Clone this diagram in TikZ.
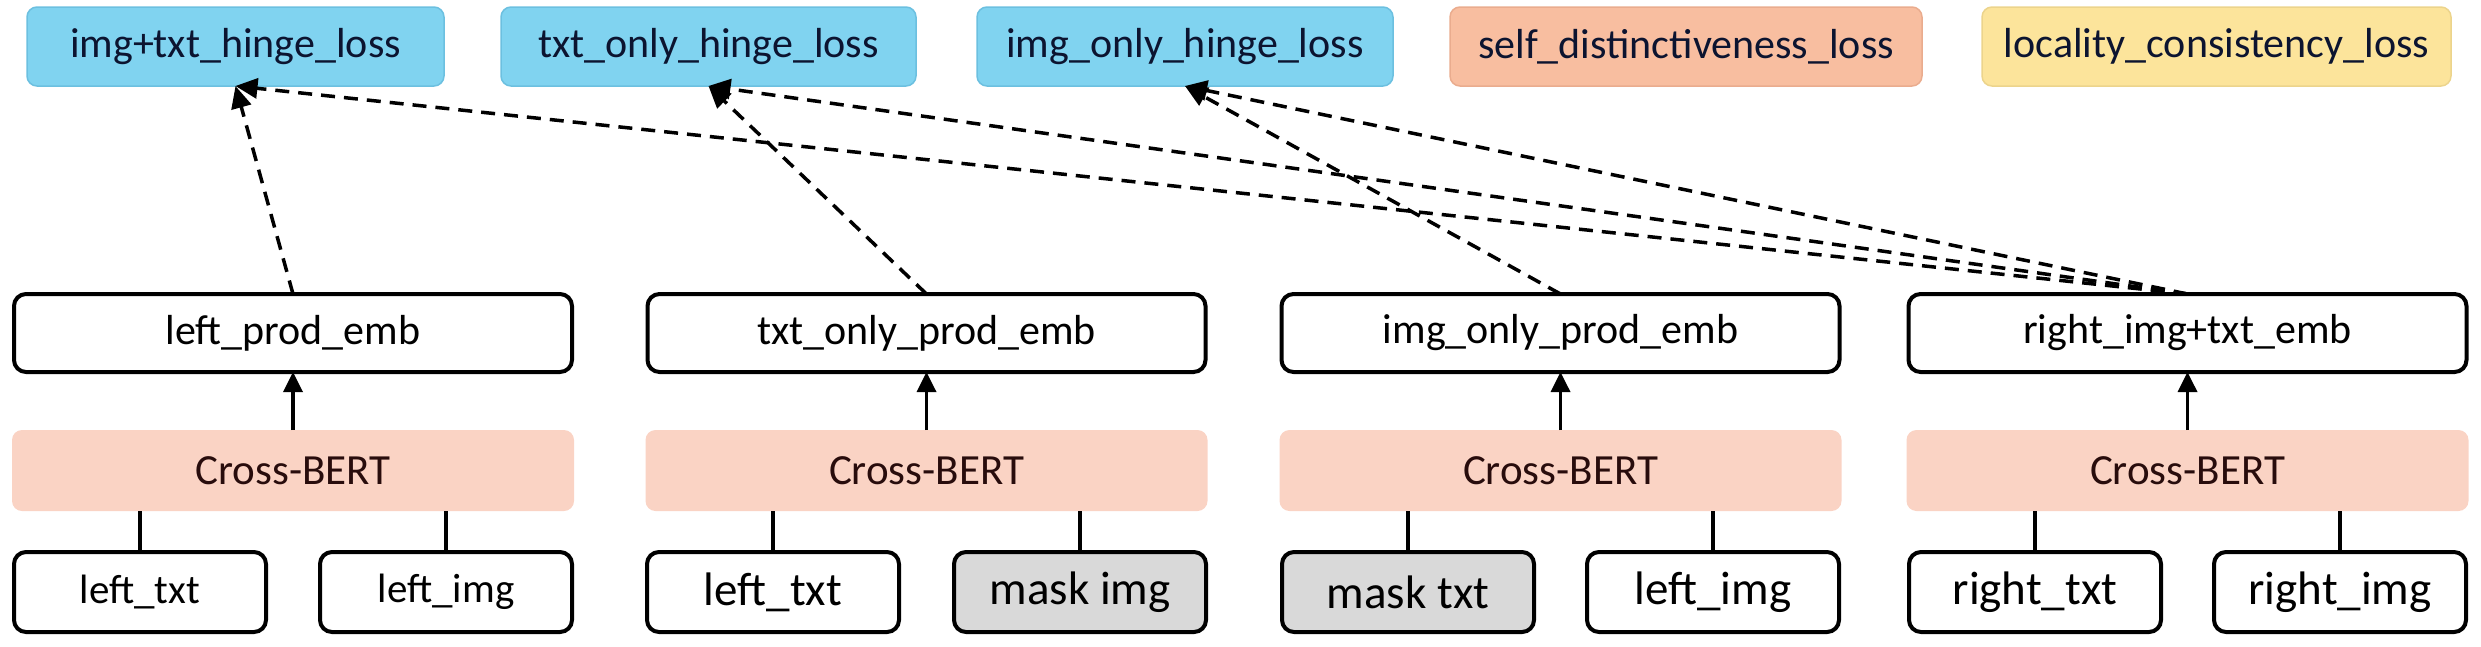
\documentclass[tikz,border=0pt]{standalone}
\usepackage{fontspec}
\setmainfont{Carlito}
\usetikzlibrary{arrows.meta}
\definecolor{lblue}{RGB}{128,211,240}
\definecolor{lblueb}{RGB}{108,192,224}
\definecolor{lsalmon}{RGB}{248,190,160}
\definecolor{lsalmonb}{RGB}{234,172,142}
\definecolor{lyellow}{RGB}{252,228,155}
\definecolor{lyellowb}{RGB}{236,212,140}
\definecolor{cbfill}{RGB}{250,211,196}
\definecolor{maskgray}{RGB}{217,217,217}
\definecolor{navytxt}{RGB}{12,20,48}
\definecolor{cbtxt}{RGB}{40,12,12}
\begin{document}
\begin{tikzpicture}[x=1pt,y=-1pt,
  every node/.style={inner sep=0pt, outer sep=0pt},
  loss/.style={draw, line width=1.5pt, rounded corners=10pt, minimum height=79pt,
    text=navytxt, font=\fontsize{42}{48}\selectfont},
  emb/.style={draw=black, line width=4pt, rounded corners=12pt, fill=white,
    minimum width=558pt, minimum height=78pt, font=\fontsize{42}{48}\selectfont},
  cbert/.style={fill=cbfill, rounded corners=10pt, minimum width=562pt,
    minimum height=81pt, text=cbtxt, font=\fontsize{43}{48}\selectfont},
  inbox/.style={draw=black, line width=4pt, rounded corners=12pt, fill=white,
    minimum width=252pt, minimum height=80pt, font=\fontsize{47}{52}\selectfont},
  inboxs/.style={inbox, font=\fontsize{41}{48}\selectfont},
  masked/.style={fill=maskgray},
  feed/.style={line width=3.5pt},
  uparrow/.style={line width=3.5pt, -{Triangle[length=20pt,width=19pt]}},
  lossarrow/.style={line width=3.5pt, dash pattern=on 14pt off 9pt,
    -{Triangle[length=22pt,width=20pt]}}
]
\useasboundingbox (0,0) rectangle (2481,646);

% loss boxes
\node[loss, fill=lblue, draw=lblueb, minimum width=417pt] (l1) at (235.5,46.5) {img+txt\_hinge\_loss};
\node[loss, fill=lblue, draw=lblueb, minimum width=415pt] (l2) at (708.5,46.5) {txt\_only\_hinge\_loss};
\node[loss, fill=lblue, draw=lblueb, minimum width=416pt] (l3) at (1185,46.5) {img\_only\_hinge\_loss};
\node[loss, fill=lsalmon, draw=lsalmonb, minimum width=472pt] (l4) at (1686,46.5) {self\_distinctiveness\_loss};
\node[loss, fill=lyellow, draw=lyellowb, minimum width=469pt] (l5) at (2216.5,46.5) {locality\_consistency\_loss};

% embedding boxes
\node[emb] (e1) at (293,333) {left\_prod\_emb};
\node[emb] (e2) at (926.5,333) {txt\_only\_prod\_emb};
\node[emb] (e3) at (1560.5,333) {img\_only\_prod\_emb};
\node[emb] (e4) at (2187.5,333) {right\_img+txt\_emb};

% Cross-BERT boxes
\node[cbert] (c1) at (293,470.5) {Cross-BERT};
\node[cbert] (c2) at (926.5,470.5) {Cross-BERT};
\node[cbert] (c3) at (1560.5,470.5) {Cross-BERT};
\node[cbert] (c4) at (2187.5,470.5) {Cross-BERT};

% inputs
\node[inboxs] (i1a) at (140,592) {left\_txt};
\node[inboxs] (i1b) at (446,592) {left\_img};
\node[inbox] (i2a) at (773,592) {left\_txt};
\node[inbox, masked] (i2b) at (1080,592) {mask img};
\node[inbox, masked] (i3a) at (1408,592) {mask txt};
\node[inbox] (i3b) at (1713,592) {left\_img};
\node[inbox] (i4a) at (2035,592) {right\_txt};
\node[inbox] (i4b) at (2340,592) {right\_img};

% input feeds
\foreach \a/\c in {i1a/c1,i1b/c1,i2a/c2,i2b/c2,i3a/c3,i3b/c3,i4a/c4,i4b/c4}
  \draw[feed] (\a.north) -- (\a.north |- \c.south);

% Cross-BERT to embeddings
\foreach \c/\e in {c1/e1,c2/e2,c3/e3,c4/e4}
  \draw[uparrow] (\c.north) -- (\e.south);

% embeddings to losses
\draw[lossarrow] (e1.north) -- (l1.south);
\draw[lossarrow] (e2.north) -- (l2.south);
\draw[lossarrow] (e3.north) -- (l3.south);
\draw[lossarrow] (e4.north) -- (l1.south);
\draw[lossarrow] (e4.north) -- (l2.south);
\draw[lossarrow] (e4.north) -- (l3.south);
\end{tikzpicture}
\end{document}
